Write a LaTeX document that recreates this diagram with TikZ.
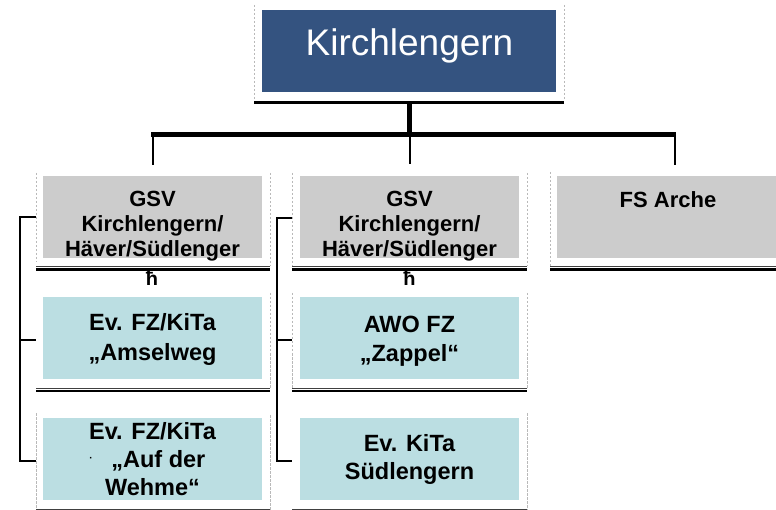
\documentclass[tikz,border=0pt]{standalone}
\usepackage{fontspec}
\setmainfont{Liberation Sans}
\definecolor{topblue}{RGB}{52,83,128}
\definecolor{boxgray}{RGB}{204,204,204}
\definecolor{boxblue}{RGB}{187,222,226}
\definecolor{dashgray}{RGB}{185,185,185}
\begin{document}
\begin{tikzpicture}[x=1pt,y=-1pt,
  boxnode/.style={inner sep=0pt,outer sep=0pt,anchor=north west,minimum width=219pt,minimum height=82pt},
  graybox/.style={boxnode,fill=boxgray},
  bluebox/.style={boxnode,fill=boxblue},
  dashline/.style={draw=dashgray,line width=0.7pt,dash pattern=on 2.5pt off 1.5pt},
  thinrule/.style={draw=black!75,line width=0.8pt},
  thickrule/.style={draw=black,line width=2.3pt},
  graytext/.style={font=\fontsize{22}{25}\selectfont\bfseries,align=center,anchor=base,inner sep=0pt},
  bluetext/.style={font=\fontsize{23.5}{29}\selectfont\bfseries,align=center,anchor=base,inner sep=0pt},
  conn/.style={draw=black,line width=2.2pt},
  hglyph/.style={font=\fontsize{20}{20}\selectfont\bfseries,anchor=base,inner sep=0pt}]
\useasboundingbox (0,0) rectangle (776,510);

% top box
\node[inner sep=0pt,outer sep=0pt,anchor=north west,minimum width=294pt,minimum height=82pt,fill=topblue] (top) at (262,10) {};
\node[font=\fontsize{37}{37}\selectfont,text=white,anchor=base,inner sep=0pt] (toptext) at (409.5,56) {Kirchlengern};
\draw[dashline] (254,5) -- (254,101);
\draw[dashline] (564,5) -- (564,101);
\draw[line width=3pt] (254,102.5) -- (564,102.5);

% level 2 boxes
\node[graybox] (g1) at (43,176) {};
\node[graybox] (g2) at (300,176) {};
\node[graybox,minimum width=222pt] (g3) at (557,176) {};
\node[graytext] (g1t) at (152.5,257) {GSV\\Kirchlengern/\\Häver/Südlenger};
\node[graytext] (g2t) at (409.5,257) {GSV\\Kirchlengern/\\Häver/Südlenger};
\node[graytext] (g3t) at (668,208) {FS Arche};

% level 3 boxes
\node[bluebox] (b1) at (43,297) {};
\node[bluebox] (b2) at (43,418) {};
\node[bluebox] (b3) at (300,297) {};
\node[bluebox] (b4) at (300,418) {};
\node[bluetext] (b1t) at (152.5,360) {Ev. FZ/KiTa\\„Amselweg};
\node[bluetext,font=\fontsize{23.5}{28}\selectfont\bfseries] (b2t) at (152.5,495) {Ev. FZ/KiTa\\\hphantom{·\,}„Auf der\\Wehme“};
\node[font=\fontsize{10}{10}\selectfont\bfseries,anchor=base,inner sep=0pt] (dot) at (91,461) {·};
\node[bluetext] (b3t) at (409.5,362) {AWO FZ\\„Zappel“};
\node[bluetext,font=\fontsize{23.5}{28}\selectfont\bfseries] (b4t) at (409.5,479) {Ev. KiTa\\Südlengern};

% glyphs under gray boxes
\node[hglyph] (h1) at (152,286) {ħ};
\node[hglyph] (h2) at (409.5,286) {ħ};

% dashed outlines
\draw[dashline] (36,173) -- (36,262);
\draw[dashline] (270,173) -- (270,266);
\draw[dashline] (292,173) -- (292,266);
\draw[dashline] (527,173) -- (527,266);
\draw[dashline] (550,172) -- (550,266);
\draw[dashline] (270,293) -- (270,388);
\draw[dashline] (292,293) -- (292,388);
\draw[dashline] (527,293) -- (527,388);
\draw[dashline] (36,413) -- (36,510);
\draw[dashline] (270,415) -- (270,510);
\draw[dashline] (527,413) -- (527,510);

% double rules under boxes
\foreach \xa/\xb in {36/270,292/527,550/776}{
  \draw[thinrule] (\xa,266.3) -- (\xb,266.3);
  \draw[thickrule] (\xa,269.4) -- (\xb,269.4);
}
\foreach \xa/\xb in {36/270,292/527}{
  \draw[thinrule] (\xa,388.2) -- (\xb,388.2);
  \draw[thickrule] (\xa,391.2) -- (\xb,391.2);
  \draw[thinrule] (\xa,509.4) -- (\xb,509.4);
}

% main connectors
\coordinate (stemtop) at (409.5,104);
\coordinate (stembot) at (409.5,134.5);
\coordinate (barl) at (151,134.5);
\coordinate (barr) at (676,134.5);
\draw[line width=5pt] (stemtop) -- (stembot);
\draw[line width=5pt] (barl) -- (barr);
\coordinate (d1a) at (152.5,137); \coordinate (d1b) at (152.5,165);
\coordinate (d2a) at (409.5,137); \coordinate (d2b) at (409.5,164);
\coordinate (d3a) at (674.5,137); \coordinate (d3b) at (674.5,165);
\draw[line width=2pt] (d1a) -- (d1b);
\draw[line width=2pt] (d2a) -- (d2b);
\draw[line width=2pt] (d3a) -- (d3b);

% left brackets
\coordinate (l1) at (36,217); \coordinate (l2) at (36,340); \coordinate (l3) at (36,461);
\draw[conn] (l1) -- (20,217) -- (20,461) -- (l3);
\draw[conn] (20,340) -- (l2);
\coordinate (r1) at (292,218); \coordinate (r2) at (292,340); \coordinate (r3) at (292,461);
\draw[conn] (r1) -- (277.3,218) -- (277.3,461) -- (r3);
\draw[conn] (277.3,340) -- (r2);
\end{tikzpicture}
\end{document}
